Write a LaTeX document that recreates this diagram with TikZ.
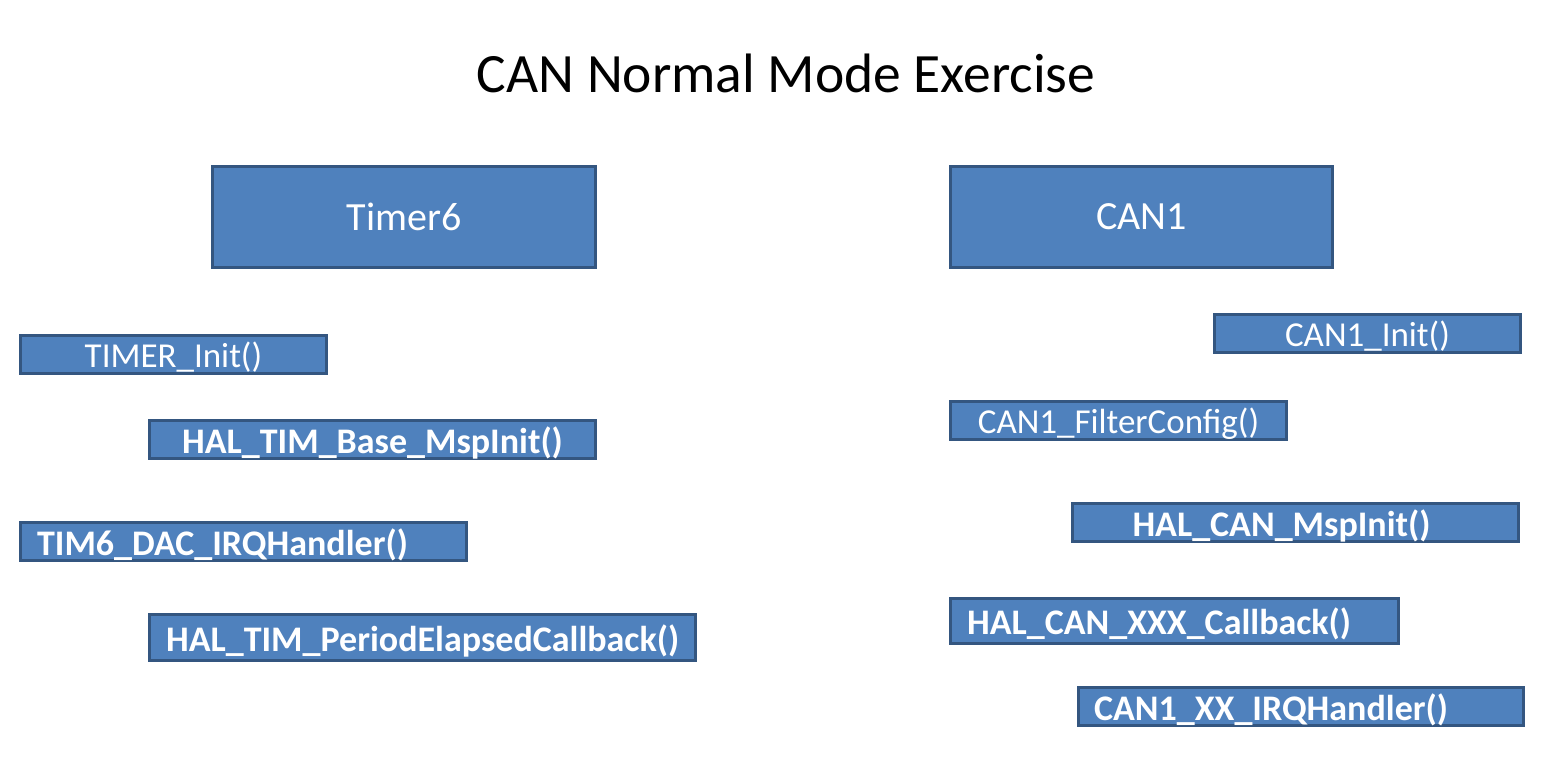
\documentclass[tikz,border=0pt]{standalone}
\usepackage{fontspec}
\setmainfont{Carlito}
\definecolor{boxfill}{RGB}{79,129,189}
\definecolor{boxline}{RGB}{52,86,128}
\begin{document}
\begin{tikzpicture}[x=1pt,y=-1pt,
  blk/.style={draw=boxline, fill=boxfill, line width=3.2pt, text=white, inner sep=0pt, font=\fontsize{35}{40}\selectfont},
  bigblk/.style={blk, font=\fontsize{40}{46}\selectfont},
  lbl/.style={text=white, inner sep=0pt, yshift=-3pt, font=\fontsize{35}{40}\selectfont},
  blbl/.style={lbl, font=\fontsize{36}{41}\selectfont\bfseries}]
\useasboundingbox (0,0) rectangle (1563,780);
\fill[white] (0,0) rectangle (1563,780);
\node[anchor=base, font=\fontsize{55.5}{62}\selectfont] (title) at (786,92) {CAN Normal Mode Exercise};
% left column
\node[bigblk, minimum width=383, minimum height=101] (timer6) at (404,217) {Timer6};
\node[blk, minimum width=306, minimum height=38] (timinit) at (173.5,354.5) {};
\node[lbl] (timinitt) at (timinit.center) {TIMER\_Init()};
\node[blk, minimum width=446, minimum height=38] (mspinit) at (372.5,439.5) {};
\node[blbl] (mspinitt) at (mspinit.center) {HAL\_TIM\_Base\_MspInit()};
\node[blk, minimum width=446, minimum height=38] (irq) at (243.5,541.5) {};
\node[blbl, anchor=west] (irqt) at ([xshift=18]irq.west) {TIM6\_DAC\_IRQHandler()};
\node[blk, minimum width=546, minimum height=46] (period) at (422.5,637.5) {};
\node[blbl, anchor=west] (periodt) at ([xshift=18]period.west) {HAL\_TIM\_PeriodElapsedCallback()};
% right column
\node[bigblk, minimum width=382, minimum height=101] (can1) at (1141.5,217) {CAN1};
\node[blk, minimum width=306, minimum height=38] (caninit) at (1367.5,333.5) {};
\node[lbl] (caninitt) at (caninit.center) {CAN1\_Init()};
\node[blk, minimum width=336, minimum height=38] (filter) at (1118.5,420.5) {};
\node[lbl] (filtert) at (filter.center) {CAN1\_FilterConfig()};
\node[blk, minimum width=446, minimum height=38] (canmsp) at (1295.5,522.5) {};
\node[blbl] (canmspt) at ([xshift=-14]canmsp.center) {HAL\_CAN\_MspInit()};
\node[blk, minimum width=448, minimum height=45] (cancb) at (1174.5,621) {};
\node[blbl, anchor=west] (cancbt) at ([xshift=18]cancb.west) {HAL\_CAN\_XXX\_Callback()};
\node[blk, minimum width=445, minimum height=38] (canirq) at (1301,706.5) {};
\node[blbl, anchor=west] (canirqt) at ([xshift=17]canirq.west) {CAN1\_XX\_IRQHandler()};
\end{tikzpicture}
\end{document}
